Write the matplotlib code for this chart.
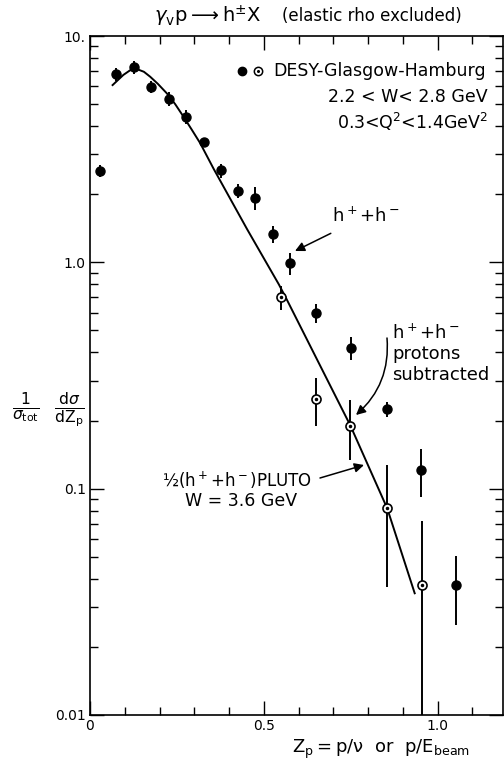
import matplotlib
matplotlib.use("Agg")
import matplotlib.pyplot as plt
from matplotlib.ticker import FixedLocator, LogLocator, NullFormatter

# h+ + h- (full dots)
full_x = [0.028, 0.075, 0.128, 0.175, 0.226, 0.275, 0.328, 0.377, 0.427,
          0.475, 0.527, 0.574, 0.651, 0.750, 0.853, 0.953, 1.054]
full_y = [2.54, 6.78, 7.27, 5.97, 5.28, 4.40, 3.40, 2.55, 2.07,
          1.93, 1.33, 0.99, 0.595, 0.42, 0.224, 0.121, 0.0376]
full_err = [0.15, 0.45, 0.5, 0.35, 0.35, 0.3, 0.15, 0.18, 0.14,
            0.23, 0.11, 0.11, 0.057, 0.05, 0.017, 0.029, 0.0127]

# h+ + h-, protons subtracted (open circles)
open_x = [0.549, 0.651, 0.748, 0.854, 0.954]
open_y = [0.70, 0.249, 0.19, 0.0818, 0.0377]
open_err = [0.085, 0.06, 0.056, 0.045, 0.034]

# 1/2 (h+ + h-) PLUTO, W = 3.6 GeV
curve_x = [0.065, 0.096, 0.115, 0.134, 0.155, 0.173, 0.195, 0.221, 0.245,
           0.269, 0.293, 0.317, 0.355, 0.452, 0.543, 0.565,
           0.749, 0.855, 0.934]
curve_y = [6.07, 6.73, 7.05, 7.15, 6.95, 6.61, 6.15, 5.58, 5.0,
           4.40, 3.85, 3.36, 2.60, 1.40, 0.80, 0.69,
           0.19, 0.0818, 0.0345]

W, H = 504, 764
fig = plt.figure(figsize=(W / 100, H / 100), dpi=100)
ax = fig.add_axes([90 / W, 1 - 715 / H, 413 / W, 679 / H])


def fp(x, y):
    # pixel position (from top-left) -> figure fraction
    return (x / W, 1 - y / H)


ax.set_yscale("log")
ax.set_xlim(0, 1.188)
ax.set_ylim(0.01, 10)

ax.plot(curve_x, curve_y, color="black", lw=1.4, zorder=2)

ax.errorbar(full_x, full_y, yerr=full_err, fmt="o", ms=6.5, color="black",
            elinewidth=1.4, capsize=0, zorder=3)
ax.errorbar(open_x, open_y, yerr=open_err, fmt="o", ms=6.5, mfc="white",
            mec="black", mew=1.2, color="black", elinewidth=1.4, capsize=0,
            zorder=3)
ax.plot(open_x, open_y, "o", ms=1.5, color="black", zorder=4)

# axes / ticks
for s in ax.spines.values():
    s.set_linewidth(1.2)
ax.xaxis.set_major_locator(FixedLocator([0, 0.5, 1.0]))
ax.set_xticklabels(["0", "0.5", "1.0"])
ax.xaxis.set_minor_locator(FixedLocator([0.1, 0.2, 0.3, 0.4, 0.6, 0.7, 0.8, 0.9, 1.1]))
ax.set_yticks([0.01, 0.1, 1, 10])
ax.set_yticklabels(["0.01", "0.1", "1.0", "10."])
ax.yaxis.set_minor_locator(LogLocator(base=10, subs=range(2, 10)))
ax.yaxis.set_minor_formatter(NullFormatter())
ax.tick_params(which="both", direction="in", top=True, right=True, width=1)
ax.tick_params(which="major", length=10, labelsize=10, pad=3)
ax.tick_params(which="minor", length=6)
ax.tick_params(axis="x", which="major", pad=3)

# title
fig.text(*fp(154, 16), r"$\gamma_\mathrm{v}\mathrm{p} \longrightarrow \mathrm{h}^{\pm}\mathrm{X}$",
         fontsize=14, ha="left", va="center")
fig.text(*fp(282, 16), "(elastic rho excluded)", fontsize=12, ha="left", va="center")

# legend-like header
ax.plot([0.368], [0.948], "o", ms=6, color="black", transform=ax.transAxes, clip_on=False)
ax.plot([0.407], [0.948], "o", ms=6, mfc="white", mec="black", mew=1.1,
        transform=ax.transAxes, clip_on=False)
ax.plot([0.407], [0.948], "o", ms=1.2, color="black", transform=ax.transAxes, clip_on=False)
fig.text(*fp(273, 71), "DESY-Glasgow-Hamburg", fontsize=12.5, ha="left", va="center")
fig.text(*fp(488, 97), "2.2 < W< 2.8 GeV", fontsize=12.5, ha="right", va="center")
fig.text(*fp(488, 122), r"0.3<Q$^2$<1.4GeV$^2$", fontsize=12.5, ha="right", va="center")

# annotations
ax.annotate(r"h$^+$+h$^-$", xy=fp(295, 251), xycoords="figure fraction",
            xytext=fp(332, 216), textcoords="figure fraction", fontsize=13,
            ha="left", va="center",
            arrowprops=dict(arrowstyle="-|>", color="black", lw=1.1,
                            mutation_scale=14, shrinkA=8, shrinkB=0))
fig.text(*fp(392, 333), "h$^+$+h$^-$", fontsize=13, ha="left", va="center")
fig.text(*fp(392, 354), "protons", fontsize=13, ha="left", va="center")
fig.text(*fp(392, 375), "subtracted", fontsize=13, ha="left", va="center")
ax.annotate("", xy=fp(356, 415), xycoords="figure fraction",
            xytext=fp(387, 338), textcoords="figure fraction",
            arrowprops=dict(arrowstyle="-|>", color="black", lw=1.1,
                            mutation_scale=14, shrinkA=0, shrinkB=0,
                            connectionstyle="arc3,rad=-0.25"))
fig.text(*fp(237, 480), "½(h$^+$+h$^-$)PLUTO", fontsize=12, ha="center", va="center")
fig.text(*fp(241, 501), "W = 3.6 GeV", fontsize=12.5, ha="center", va="center")
ax.annotate("", xy=fp(364, 465), xycoords="figure fraction",
            xytext=fp(320, 478), textcoords="figure fraction",
            arrowprops=dict(arrowstyle="-|>", color="black", lw=1.1,
                            mutation_scale=14, shrinkA=0, shrinkB=0))

# axis labels
fig.text(*fp(48, 410), r"$\frac{1}{\sigma_{\mathrm{tot}}}\ \ \frac{\mathrm{d}\sigma}{\mathrm{dZ_p}}$",
         fontsize=16, ha="center", va="center")
fig.text(*fp(381, 749), r"$\mathrm{Z_p = p/\nu\ \ or\ \ p/E_{beam}}$",
         fontsize=13, ha="center", va="center")

fig.savefig("out.png", dpi=100)
